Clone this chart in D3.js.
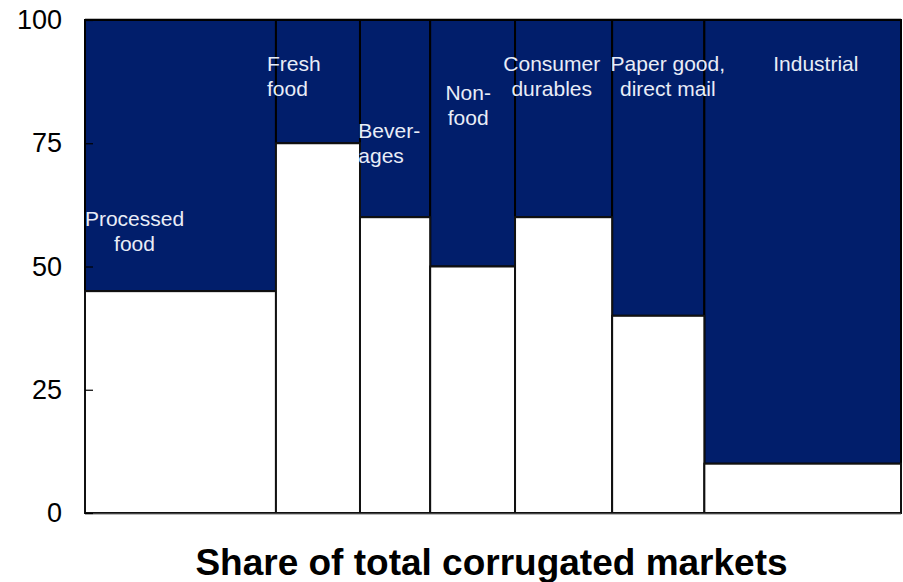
<!DOCTYPE html>
<html>
<head>
<meta charset="utf-8">
<script src="https://cdn.jsdelivr.net/npm/d3@7"></script>
<style>
  html, body { margin: 0; padding: 0; background: #fff; }
  svg { display: block; font-family: Arial, "Liberation Sans", Helvetica, sans-serif; }
</style>
</head>
<body>
<svg id="chart" width="903" height="582"></svg>
<script>
// Market segments (column widths = share of total corrugated market, %)
const segments = ["Processed food", "Fresh food", "Beverages", "Non-food",
                  "Consumer durables", "Paper good, direct mail", "Industrial"];
const marketShare = [23.4, 10.3, 8.6, 10.4, 11.9, 11.3, 24.1];
// Height of the lower (white) block in each column, %
const lowerShare = [45, 75, 60, 50, 60, 40, 10];
// Label lines as drawn inside each column
const labelLines = [["Processed", "food"], ["Fresh", "food"], ["Bever-", "ages"],
                    ["Non-", "food"], ["Consumer", "durables"],
                    ["Paper good,", "direct mail"], ["Industrial"]];
const yTicks = [0, 25, 50, 75, 100];
const titleText = "Share of total corrugated markets";

// Label placement: anchor, horizontal offset from column start (px), first baseline (value units)
const labelLayout = [
  { anchor: "middle", dx: 49.5, y: 58.2 },
  { anchor: "start",  dx: -9,   y: 89.6 },
  { anchor: "start",  dx: -1.7, y: 76.0 },
  { anchor: "middle", dx: 38,   y: 83.7 },
  { anchor: "middle", dx: 36.7, y: 89.6 },
  { anchor: "middle", dx: 55.7, y: 89.6 },
  { anchor: "middle", dx: 111.5, y: 89.6 }
];

const navy = "#011E6B";
const svg = d3.select("#chart");
const plotL = 85, plotR = 901, plotT = 20, plotB = 513;

const x = d3.scaleLinear().domain([0, d3.sum(marketShare)]).range([plotL, plotR]);
const y = d3.scaleLinear().domain([0, 100]).range([plotB, plotT]);

// cumulative start of each column
const starts = [];
marketShare.reduce((acc, v, i) => { starts[i] = acc; return acc + v; }, 0);
const cols = segments.map((name, i) => ({
  name, i, x0: starts[i], x1: starts[i] + marketShare[i], low: lowerShare[i]
}));

const g = svg.append("g");

// upper (navy) block: from lower value up to 100
g.selectAll("rect.upper").data(cols).join("rect")
  .attr("class", "upper")
  .attr("x", d => x(d.x0))
  .attr("width", d => x(d.x1) - x(d.x0))
  .attr("y", y(100))
  .attr("height", d => y(d.low) - y(100))
  .attr("fill", navy)
  .attr("stroke", "#000")
  .attr("stroke-width", 2);

// lower (white) block: 0 to value
g.selectAll("rect.lower").data(cols).join("rect")
  .attr("class", "lower")
  .attr("x", d => x(d.x0))
  .attr("width", d => x(d.x1) - x(d.x0))
  .attr("y", d => y(d.low))
  .attr("height", d => y(0) - y(d.low))
  .attr("fill", "#fff")
  .attr("stroke", "#111")
  .attr("stroke-width", 2);

// plot frame edges: light grey top and bottom rules
svg.append("line").attr("x1", plotL).attr("x2", plotR)
  .attr("y1", y(100) - 1.5).attr("y2", y(100) - 1.5)
  .attr("stroke", "#bbb").attr("stroke-width", 1);
svg.append("line").attr("x1", plotL).attr("x2", plotR)
  .attr("y1", y(0) + 1).attr("y2", y(0) + 1)
  .attr("stroke", "#777").attr("stroke-width", 1);

// column labels
const lab = svg.append("g").attr("font-size", 21).attr("fill", "#E9EDF7");
cols.forEach((d, i) => {
  const L = labelLayout[i];
  const t = lab.append("text")
    .attr("x", x(d.x0) + L.dx)
    .attr("y", y(L.y))
    .attr("text-anchor", L.anchor);
  labelLines[i].forEach((line, k) => {
    t.append("tspan")
      .attr("x", x(d.x0) + L.dx)
      .attr("dy", k === 0 ? 0 : 25)
      .text(line);
  });
});

// y axis: inward ticks, no domain line
const yAxis = d3.axisLeft(y).tickValues(yTicks)
  .tickSizeInner(-8).tickSizeOuter(0).tickPadding(23);
const ay = svg.append("g").attr("transform", `translate(${plotL},0)`).call(yAxis);
ay.select(".domain").remove();
ay.selectAll(".tick line").attr("stroke", "#000").attr("stroke-width", 1.2);
ay.selectAll(".tick text").attr("font-size", 27).attr("fill", "#000")
  .attr("font-family", "Arial, 'Liberation Sans', sans-serif");

// title
svg.append("text")
  .attr("x", (plotL + plotR) / 2 - 1.5)
  .attr("y", 575)
  .attr("text-anchor", "middle")
  .attr("font-size", 37)
  .attr("font-weight", "bold")
  .attr("fill", "#000")
  .text(titleText);
</script>
</body>
</html>
